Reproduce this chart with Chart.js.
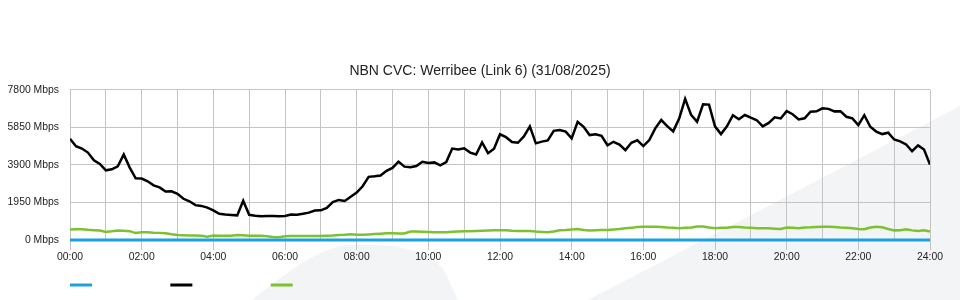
<!DOCTYPE html>
<html><head><meta charset="utf-8">
<script src="https://cdn.jsdelivr.net/npm/chart.js@4/dist/chart.umd.min.js"></script>
<style>html,body{margin:0;padding:0;background:#fff;}#wrap{width:960px;height:300px;position:relative;}</style>
</head><body><div id="wrap"><canvas id="c" width="960" height="300"></canvas></div>
<script>
const chartTitle = 'NBN CVC: Werribee (Link 6) (31/08/2025)';
const yTicks = [0, 1950, 3900, 5850, 7800];
const xTickLabels = ['00:00','02:00','04:00','06:00','08:00','10:00','12:00','14:00','16:00','18:00','20:00','22:00','24:00'];
const sampleMinutes = 10;
// blue series (Mbps)
const blueSeries = [
0,0,0,0,0,0,0,0,0,0, 0,0,0,0,0,0,0,0,0,0, 0,0,0,0,0,0,0,0,0,0,
0,0,0,0,0,0,0,0,0,0, 0,0,0,0,0,0,0,0,0,0, 0,0,0,0,0,0,0,0,0,0,
0,0,0,0,0,0,0,0,0,0, 0,0,0,0,0,0,0,0,0,0, 0,0,0,0,0,0,0,0,0,0,
0,0,0,0,0,0,0,0,0,0, 0,0,0,0,0,0,0,0,0,0, 0,0,0,0,0,0,0,0,0,0,
0,0,0,0,0,0,0,0,0,0, 0,0,0,0,0,0,0,0,0,0, 0,0,0,0,0
];
// black series (Mbps)
const blackSeries = [
5260,4870,4750,4540,4140,3950,3620,3670,3830,4440,
3760,3200,3190,3050,2840,2730,2520,2530,2400,2140,
2010,1810,1770,1680,1540,1360,1320,1300,1280,2040,
1310,1260,1230,1240,1240,1230,1250,1320,1310,1360,
1420,1530,1540,1670,1970,2080,2030,2250,2460,2790,
3280,3310,3350,3590,3740,4070,3810,3780,3840,4060,
4000,4030,3880,4050,4750,4700,4760,4540,4440,5070,
4510,4740,5490,5340,5090,5050,5380,5900,5020,5110,
5170,5670,5710,5630,5280,6140,5880,5450,5490,5410,
4920,5100,4960,4670,5050,5180,4880,5190,5800,6230,
5910,5640,6310,7330,6500,6140,7050,7030,5900,5500,
5900,6480,6270,6490,6350,6220,5900,6080,6370,6310,
6690,6530,6260,6320,6660,6680,6840,6810,6680,6690,
6400,6320,5970,6480,5880,5630,5500,5570,5220,5120,
4960,4610,4910,4700,3920
];
// green series (Mbps)
const greenSeries = [
550,560,560,530,510,490,420,450,490,480,
460,360,400,400,380,370,350,300,260,250,
230,230,220,170,230,220,220,220,260,250,
220,220,220,190,150,140,190,210,210,210,
210,210,210,220,230,260,270,300,270,270,
290,310,330,350,350,340,340,440,440,430,
420,400,400,400,430,440,450,450,470,480,
490,500,510,500,480,470,470,470,440,420,
400,440,510,520,550,570,520,490,510,520,
520,550,570,610,630,680,690,690,690,680,
650,630,610,630,650,700,700,650,610,630,
640,680,680,650,640,610,610,610,590,570,
650,630,610,650,660,680,690,690,680,650,
630,610,570,560,650,690,660,570,500,510,
560,500,470,500,440
];
const seriesColors = ['#1ba1e2', '#000000', '#7cc22e'];

function toPoints(arr) { return arr.map((v, i) => ({ x: i * sampleMinutes, y: v })); }

Chart.defaults.font.family = "'Liberation Sans', Arial, sans-serif";
Chart.defaults.color = '#333';

const bgPlugin = {
  id: 'bg',
  beforeDraw(chart) {
    const ctx = chart.ctx;
    ctx.save();
    ctx.fillStyle = '#ffffff';
    ctx.fillRect(0, 0, chart.width, chart.height);
    ctx.fillStyle = '#f3f4f6';
    ctx.beginPath();
    ctx.moveTo(588, 300);
    ctx.lineTo(960, 106);
    ctx.lineTo(960, 300);
    ctx.closePath();
    ctx.fill();
    ctx.beginPath();
    ctx.moveTo(252, 300);
    ctx.bezierCurveTo(290, 270, 320, 247, 350, 245);
    ctx.bezierCurveTo(400, 243, 440, 250, 450, 283);
    ctx.lineTo(458, 300);
    ctx.closePath();
    ctx.fill();
    ctx.restore();
  }
};
const layoutTweak = {
  id: 'layoutTweak',
  afterLayout(chart) {
    if (chart.legend) { chart.legend.left = 61; chart.legend.top += 1; }
    if (chart.titleBlock) { chart.titleBlock.right = chart.width; chart.titleBlock.left = 0; }
  }
};

new Chart(document.getElementById('c'), {
  type: 'line',
  data: {
    datasets: [
      { label: 'blue', data: toPoints(blueSeries), borderColor: seriesColors[0], backgroundColor: seriesColors[0], borderWidth: 3, pointRadius: 0, clip: 6 },
      { label: 'black', data: toPoints(blackSeries), borderColor: seriesColors[1], backgroundColor: seriesColors[1], borderWidth: 2.5, pointRadius: 0 },
      { label: 'green', data: toPoints(greenSeries), borderColor: seriesColors[2], backgroundColor: seriesColors[2], borderWidth: 2.5, pointRadius: 0 }
    ]
  },
  plugins: [bgPlugin, layoutTweak],
  options: {
    responsive: false,
    animation: false,
    layout: { padding: { left: 0, right: 30, top: 0, bottom: 0 } },
    elements: { line: { tension: 0 } },
    plugins: {
      title: { display: true, text: chartTitle, color: '#222', font: { size: 14, weight: 'normal' }, padding: { top: 63, bottom: 10 } },
      tooltip: { enabled: false },
      legend: {
        position: 'bottom', align: 'start',
        labels: {
          boxWidth: 22, boxHeight: 3, padding: 9, font: { size: 12 },
          generateLabels(chart) {
            return chart.data.datasets.map((d, i) => ({
              text: ' '.repeat(19), fillStyle: d.borderColor, strokeStyle: d.borderColor, lineWidth: 0, hidden: false, datasetIndex: i
            }));
          }
        }
      }
    },
    scales: {
      x: {
        type: 'linear', min: 0, max: 1440,
        afterFit(s) { s.height = 29; },
        border: { display: false },
        grid: {
          color: '#c4c4c4', lineWidth: 1, drawTicks: true, tickLength: 10,
          tickColor: (c) => (c.tick && c.tick.value % 120 === 0) ? '#c4c4c4' : 'rgba(0,0,0,0)'
        },
        ticks: {
          stepSize: 60, autoSkip: false, maxRotation: 0, padding: 1,
          font: { size: 10.4 }, color: '#222',
          callback: (v) => (v % 120 === 0) ? xTickLabels[v / 120] : ''
        }
      },
      y: {
        min: yTicks[0], max: yTicks[yTicks.length - 1],
        afterFit(s) { s.width = 70; },
        afterBuildTicks(s) { s.ticks = yTicks.map(v => ({ value: v })); },
        border: { display: false },
        grid: { color: '#c4c4c4', lineWidth: 1, drawTicks: false },
        ticks: { padding: 11, font: { size: 10.4 }, color: '#222', callback: (v) => v + ' Mbps' }
      }
    }
  }
});
</script></body></html>
